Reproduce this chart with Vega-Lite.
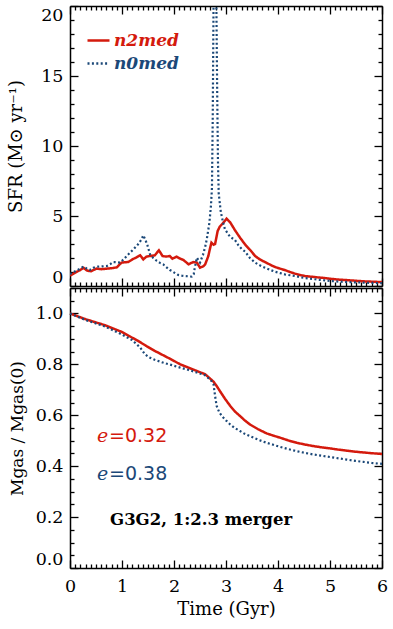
{
  "$schema": "https://vega.github.io/schema/vega-lite/v6.json",
  "padding": {"left": 7, "top": 5, "right": 6, "bottom": 4},
  "background": "white",
  "config": {
    "view": {"stroke": null},
    "font": "DejaVu Serif",
    "axis": {"grid": false, "domainColor": "black", "domainWidth": 1.5, "tickColor": "black", "tickWidth": 1.3, "labelColor": "black", "titleColor": "black", "labelFont": "DejaVu Serif", "titleFont": "DejaVu Serif", "labelFontSize": 17.5, "titleFontSize": 18, "titleFontWeight": "normal", "labelOverlap": false, "labelFlush": false}
  },
  "datasets": {
    "sfr": [
      {"run":"n2med","t":0.00,"v":0.75},{"run":"n2med","t":0.10,"v":0.95},{"run":"n2med","t":0.20,"v":1.15},{"run":"n2med","t":0.26,"v":1.3},{"run":"n2med","t":0.33,"v":1.1},{"run":"n2med","t":0.40,"v":1.05},{"run":"n2med","t":0.51,"v":1.24},{"run":"n2med","t":0.60,"v":1.2},{"run":"n2med","t":0.71,"v":1.24},{"run":"n2med","t":0.80,"v":1.27},{"run":"n2med","t":0.90,"v":1.33},{"run":"n2med","t":0.99,"v":1.67},{"run":"n2med","t":1.05,"v":1.7},{"run":"n2med","t":1.12,"v":1.71},{"run":"n2med","t":1.20,"v":1.9},{"run":"n2med","t":1.28,"v":2.05},{"run":"n2med","t":1.35,"v":2.19},{"run":"n2med","t":1.41,"v":1.9},{"run":"n2med","t":1.47,"v":2.1},{"run":"n2med","t":1.55,"v":2.15},{"run":"n2med","t":1.63,"v":2.19},{"run":"n2med","t":1.71,"v":2.55},{"run":"n2med","t":1.78,"v":2.14},{"run":"n2med","t":1.85,"v":2.1},{"run":"n2med","t":1.92,"v":2.14},{"run":"n2med","t":1.97,"v":1.95},{"run":"n2med","t":2.05,"v":2.1},{"run":"n2med","t":2.12,"v":1.95},{"run":"n2med","t":2.18,"v":1.86},{"run":"n2med","t":2.28,"v":1.55},{"run":"n2med","t":2.37,"v":1.71},{"run":"n2med","t":2.44,"v":1.67},{"run":"n2med","t":2.50,"v":1.31},{"run":"n2med","t":2.56,"v":1.4},{"run":"n2med","t":2.60,"v":1.55},{"run":"n2med","t":2.66,"v":2.14},{"run":"n2med","t":2.70,"v":2.8},{"run":"n2med","t":2.72,"v":3.1},{"run":"n2med","t":2.76,"v":2.95},{"run":"n2med","t":2.79,"v":3.0},{"run":"n2med","t":2.84,"v":3.93},{"run":"n2med","t":2.88,"v":4.24},{"run":"n2med","t":2.95,"v":4.52},{"run":"n2med","t":3.01,"v":4.81},{"run":"n2med","t":3.08,"v":4.55},{"run":"n2med","t":3.17,"v":4.0},{"run":"n2med","t":3.27,"v":3.45},{"run":"n2med","t":3.37,"v":2.95},{"run":"n2med","t":3.47,"v":2.55},{"run":"n2med","t":3.56,"v":2.14},{"run":"n2med","t":3.65,"v":1.9},{"run":"n2med","t":3.75,"v":1.71},{"run":"n2med","t":3.85,"v":1.52},{"run":"n2med","t":3.94,"v":1.36},{"run":"n2med","t":4.04,"v":1.24},{"run":"n2med","t":4.13,"v":1.14},{"run":"n2med","t":4.23,"v":1.0},{"run":"n2med","t":4.33,"v":0.88},{"run":"n2med","t":4.43,"v":0.78},{"run":"n2med","t":4.52,"v":0.71},{"run":"n2med","t":4.62,"v":0.67},{"run":"n2med","t":4.71,"v":0.64},{"run":"n2med","t":4.80,"v":0.6},{"run":"n2med","t":4.90,"v":0.57},{"run":"n2med","t":5.00,"v":0.52},{"run":"n2med","t":5.10,"v":0.48},{"run":"n2med","t":5.20,"v":0.45},{"run":"n2med","t":5.29,"v":0.43},{"run":"n2med","t":5.40,"v":0.4},{"run":"n2med","t":5.48,"v":0.38},{"run":"n2med","t":5.58,"v":0.35},{"run":"n2med","t":5.67,"v":0.33},{"run":"n2med","t":5.80,"v":0.31},{"run":"n2med","t":5.93,"v":0.29},{"run":"n2med","t":6.00,"v":0.28},
      {"run":"n0med","t":0.00,"v":0.85},{"run":"n0med","t":0.10,"v":1.05},{"run":"n0med","t":0.20,"v":1.25},{"run":"n0med","t":0.26,"v":1.38},{"run":"n0med","t":0.32,"v":1.25},{"run":"n0med","t":0.38,"v":1.14},{"run":"n0med","t":0.45,"v":1.3},{"run":"n0med","t":0.51,"v":1.38},{"run":"n0med","t":0.60,"v":1.4},{"run":"n0med","t":0.71,"v":1.43},{"run":"n0med","t":0.77,"v":1.55},{"run":"n0med","t":0.83,"v":1.71},{"run":"n0med","t":0.90,"v":1.7},{"run":"n0med","t":0.96,"v":1.67},{"run":"n0med","t":1.03,"v":1.9},{"run":"n0med","t":1.09,"v":2.14},{"run":"n0med","t":1.16,"v":2.4},{"run":"n0med","t":1.22,"v":2.62},{"run":"n0med","t":1.31,"v":2.98},{"run":"n0med","t":1.37,"v":3.3},{"run":"n0med","t":1.41,"v":3.62},{"run":"n0med","t":1.45,"v":3.3},{"run":"n0med","t":1.49,"v":2.9},{"run":"n0med","t":1.54,"v":2.26},{"run":"n0med","t":1.60,"v":2.0},{"run":"n0med","t":1.67,"v":1.79},{"run":"n0med","t":1.73,"v":1.65},{"run":"n0med","t":1.79,"v":1.55},{"run":"n0med","t":1.85,"v":1.35},{"run":"n0med","t":1.92,"v":1.14},{"run":"n0med","t":1.96,"v":1.07},{"run":"n0med","t":2.02,"v":0.92},{"run":"n0med","t":2.08,"v":0.79},{"run":"n0med","t":2.15,"v":0.74},{"run":"n0med","t":2.21,"v":0.71},{"run":"n0med","t":2.28,"v":0.69},{"run":"n0med","t":2.34,"v":0.67},{"run":"n0med","t":2.38,"v":0.85},{"run":"n0med","t":2.40,"v":1.31},{"run":"n0med","t":2.44,"v":2.02},{"run":"n0med","t":2.47,"v":1.85},{"run":"n0med","t":2.50,"v":1.67},{"run":"n0med","t":2.56,"v":2.26},{"run":"n0med","t":2.60,"v":2.8},{"run":"n0med","t":2.63,"v":3.33},{"run":"n0med","t":2.68,"v":4.5},{"run":"n0med","t":2.71,"v":5.7},{"run":"n0med","t":2.73,"v":7.0},{"run":"n0med","t":2.745,"v":12},{"run":"n0med","t":2.76,"v":20},{"run":"n0med","t":2.79,"v":25},{"run":"n0med","t":2.815,"v":20},{"run":"n0med","t":2.83,"v":14},{"run":"n0med","t":2.845,"v":9},{"run":"n0med","t":2.86,"v":6.6},{"run":"n0med","t":2.90,"v":5.3},{"run":"n0med","t":2.94,"v":4.6},{"run":"n0med","t":2.98,"v":4.05},{"run":"n0med","t":3.08,"v":3.5},{"run":"n0med","t":3.17,"v":3.3},{"run":"n0med","t":3.24,"v":2.9},{"run":"n0med","t":3.30,"v":2.65},{"run":"n0med","t":3.37,"v":2.45},{"run":"n0med","t":3.46,"v":2.0},{"run":"n0med","t":3.56,"v":1.67},{"run":"n0med","t":3.65,"v":1.48},{"run":"n0med","t":3.75,"v":1.31},{"run":"n0med","t":3.85,"v":1.15},{"run":"n0med","t":3.94,"v":1.02},{"run":"n0med","t":4.04,"v":0.92},{"run":"n0med","t":4.13,"v":0.83},{"run":"n0med","t":4.23,"v":0.77},{"run":"n0med","t":4.33,"v":0.71},{"run":"n0med","t":4.43,"v":0.63},{"run":"n0med","t":4.52,"v":0.57},{"run":"n0med","t":4.62,"v":0.52},{"run":"n0med","t":4.71,"v":0.48},{"run":"n0med","t":4.80,"v":0.44},{"run":"n0med","t":4.90,"v":0.4},{"run":"n0med","t":5.00,"v":0.36},{"run":"n0med","t":5.10,"v":0.33},{"run":"n0med","t":5.20,"v":0.31},{"run":"n0med","t":5.29,"v":0.29},{"run":"n0med","t":5.40,"v":0.27},{"run":"n0med","t":5.48,"v":0.26},{"run":"n0med","t":5.58,"v":0.25},{"run":"n0med","t":5.67,"v":0.24},{"run":"n0med","t":5.80,"v":0.22},{"run":"n0med","t":5.93,"v":0.21},{"run":"n0med","t":6.00,"v":0.2}
    ],
    "gas": [
      {"run":"n2med","t":0,"f":1.0},{"run":"n2med","t":0.29,"f":0.978},{"run":"n2med","t":0.67,"f":0.954},{"run":"n2med","t":0.99,"f":0.928},{"run":"n2med","t":1.15,"f":0.91},{"run":"n2med","t":1.31,"f":0.892},{"run":"n2med","t":1.47,"f":0.872},{"run":"n2med","t":1.63,"f":0.853},{"run":"n2med","t":1.80,"f":0.835},{"run":"n2med","t":1.96,"f":0.818},{"run":"n2med","t":2.12,"f":0.80},{"run":"n2med","t":2.28,"f":0.787},{"run":"n2med","t":2.44,"f":0.774},{"run":"n2med","t":2.60,"f":0.761},{"run":"n2med","t":2.69,"f":0.745},{"run":"n2med","t":2.76,"f":0.732},{"run":"n2med","t":2.82,"f":0.715},{"run":"n2med","t":2.88,"f":0.696},{"run":"n2med","t":2.98,"f":0.665},{"run":"n2med","t":3.08,"f":0.637},{"run":"n2med","t":3.17,"f":0.615},{"run":"n2med","t":3.27,"f":0.597},{"run":"n2med","t":3.36,"f":0.58},{"run":"n2med","t":3.46,"f":0.564},{"run":"n2med","t":3.62,"f":0.545},{"run":"n2med","t":3.78,"f":0.529},{"run":"n2med","t":3.91,"f":0.52},{"run":"n2med","t":4.04,"f":0.512},{"run":"n2med","t":4.20,"f":0.501},{"run":"n2med","t":4.36,"f":0.492},{"run":"n2med","t":4.52,"f":0.485},{"run":"n2med","t":4.68,"f":0.479},{"run":"n2med","t":4.84,"f":0.474},{"run":"n2med","t":5.00,"f":0.47},{"run":"n2med","t":5.16,"f":0.465},{"run":"n2med","t":5.32,"f":0.461},{"run":"n2med","t":5.48,"f":0.457},{"run":"n2med","t":5.64,"f":0.454},{"run":"n2med","t":5.80,"f":0.451},{"run":"n2med","t":6.00,"f":0.448},
      {"run":"n0med","t":0,"f":1.0},{"run":"n0med","t":0.29,"f":0.975},{"run":"n0med","t":0.67,"f":0.949},{"run":"n0med","t":0.99,"f":0.918},{"run":"n0med","t":1.19,"f":0.896},{"run":"n0med","t":1.35,"f":0.866},{"run":"n0med","t":1.44,"f":0.84},{"run":"n0med","t":1.52,"f":0.828},{"run":"n0med","t":1.63,"f":0.818},{"run":"n0med","t":1.80,"f":0.806},{"run":"n0med","t":1.96,"f":0.797},{"run":"n0med","t":2.12,"f":0.787},{"run":"n0med","t":2.28,"f":0.778},{"run":"n0med","t":2.44,"f":0.768},{"run":"n0med","t":2.60,"f":0.757},{"run":"n0med","t":2.69,"f":0.741},{"run":"n0med","t":2.72,"f":0.735},{"run":"n0med","t":2.76,"f":0.722},{"run":"n0med","t":2.79,"f":0.676},{"run":"n0med","t":2.82,"f":0.637},{"run":"n0med","t":2.87,"f":0.612},{"run":"n0med","t":2.92,"f":0.597},{"run":"n0med","t":3.00,"f":0.58},{"run":"n0med","t":3.08,"f":0.564},{"run":"n0med","t":3.17,"f":0.55},{"run":"n0med","t":3.27,"f":0.538},{"run":"n0med","t":3.36,"f":0.527},{"run":"n0med","t":3.46,"f":0.518},{"run":"n0med","t":3.62,"f":0.504},{"run":"n0med","t":3.78,"f":0.492},{"run":"n0med","t":3.91,"f":0.484},{"run":"n0med","t":4.04,"f":0.476},{"run":"n0med","t":4.20,"f":0.467},{"run":"n0med","t":4.36,"f":0.459},{"run":"n0med","t":4.52,"f":0.452},{"run":"n0med","t":4.68,"f":0.446},{"run":"n0med","t":4.84,"f":0.441},{"run":"n0med","t":5.00,"f":0.436},{"run":"n0med","t":5.16,"f":0.431},{"run":"n0med","t":5.32,"f":0.426},{"run":"n0med","t":5.48,"f":0.421},{"run":"n0med","t":5.64,"f":0.417},{"run":"n0med","t":5.80,"f":0.413},{"run":"n0med","t":6.00,"f":0.409}
    ],
    "ecc": [
      {"run":"n2med","t":0.52,"f":0.495,"eq":"=0.32"},
      {"run":"n0med","t":0.52,"f":0.345,"eq":"=0.38"}
    ],
    "caption": [
      {"t":0.77,"f":0.168,"note":"G3G2, 1:2.3 merger"}
    ]
  },
  "spacing": 0,
  "resolve": {"scale": {"color": "independent", "strokeDash": "independent"}},
  "vconcat": [
    {
      "width": 312, "height": 280,
      "layer": [
        {
          "data": {"name": "sfr"},
          "transform": [{"filter": "datum.run === 'n2med'"}],
          "mark": {"type": "line", "strokeWidth": 2.5, "clip": true},
          "encoding": {
            "x": {"field": "t", "type": "quantitative", "scale": {"domain": [0, 6], "nice": false, "zero": false},
              "axis": {"orient": "bottom", "values": [0,0.1,0.2,0.3,0.4,0.5,0.6,0.7,0.8,0.9,1,1.1,1.2,1.3,1.4,1.5,1.6,1.7,1.8,1.9,2,2.1,2.2,2.3,2.4,2.5,2.6,2.7,2.8,2.9,3,3.1,3.2,3.3,3.4,3.5,3.6,3.7,3.8,3.9,4,4.1,4.2,4.3,4.4,4.5,4.6,4.7,4.8,4.9,5,5.1,5.2,5.3,5.4,5.5,5.6,5.7,5.8,5.9,6], "labels": false, "title": null,
                "tickSize": {"condition": {"test": "datum.value % 1 === 0", "value": -8}, "value": -4}}},
            "y": {"field": "v", "type": "quantitative", "scale": {"domain": [0, 20], "nice": false},
              "axis": {"orient": "left", "values": [0,1,2,3,4,5,6,7,8,9,10,11,12,13,14,15,16,17,18,19,20], "labelExpr": "datum.value % 5 === 0 ? '' + datum.value : ''", "labelFlush": true, "labelPadding": 15, "title": "SFR (M⊙ yr⁻¹)", "titleFontWeight": "normal", "titlePadding": 7, "minExtent": 38, "maxExtent": 38,
                "tickSize": {"condition": {"test": "datum.value % 5 === 0", "value": -8}, "value": -4}}},
            "color": {"field": "run", "type": "nominal", "scale": {"domain": ["n2med", "n0med"], "range": ["#d41a0d", "#1b4878"]},
              "legend": {"orient": "none", "legendX": 16, "legendY": 22, "title": null, "padding": 0, "symbolType": "stroke", "symbolSize": 484, "symbolStrokeWidth": 2.5, "labelFont": "DejaVu Serif", "labelFontStyle": "italic", "labelFontWeight": "bold", "labelFontSize": 17, "labelOffset": 3, "rowPadding": 2,
                "encode": {"labels": {"update": {"fill": {"signal": "datum.value === 'n2med' ? '#d41a0d' : '#1b4878'"}}}}}},
            "strokeDash": {"field": "run", "type": "nominal", "scale": {"domain": ["n2med", "n0med"], "range": [[1, 0], [2, 2.4]]},
              "legend": {"orient": "none", "legendX": 16, "legendY": 22, "title": null, "padding": 0, "symbolType": "stroke", "symbolSize": 484, "symbolStrokeWidth": 2.5, "labelFont": "DejaVu Serif", "labelFontStyle": "italic", "labelFontWeight": "bold", "labelFontSize": 17, "labelOffset": 3, "rowPadding": 2,
                "encode": {"labels": {"update": {"fill": {"signal": "datum.value === 'n2med' ? '#d41a0d' : '#1b4878'"}}}}}}
          }
        },
        {
          "data": {"name": "sfr"},
          "transform": [{"filter": "datum.run === 'n0med'"}],
          "mark": {"type": "line", "strokeWidth": 2.2, "clip": true},
          "encoding": {
            "x": {"field": "t", "type": "quantitative",
              "axis": {"orient": "top", "values": [0,0.1,0.2,0.3,0.4,0.5,0.6,0.7,0.8,0.9,1,1.1,1.2,1.3,1.4,1.5,1.6,1.7,1.8,1.9,2,2.1,2.2,2.3,2.4,2.5,2.6,2.7,2.8,2.9,3,3.1,3.2,3.3,3.4,3.5,3.6,3.7,3.8,3.9,4,4.1,4.2,4.3,4.4,4.5,4.6,4.7,4.8,4.9,5,5.1,5.2,5.3,5.4,5.5,5.6,5.7,5.8,5.9,6], "labels": false, "title": null,
                "tickSize": {"condition": {"test": "datum.value % 1 === 0", "value": -8}, "value": -4}}},
            "y": {"field": "v", "type": "quantitative",
              "axis": {"orient": "right", "values": [0,1,2,3,4,5,6,7,8,9,10,11,12,13,14,15,16,17,18,19,20], "labels": false, "title": null,
                "tickSize": {"condition": {"test": "datum.value % 5 === 0", "value": -8}, "value": -4}}},
            "color": {"field": "run", "type": "nominal"},
            "strokeDash": {"field": "run", "type": "nominal"}
          }
        }
      ],
      "resolve": {"axis": {"x": "independent", "y": "independent"}}
    },
    {
      "width": 312, "height": 280,
      "layer": [
        {
          "data": {"name": "gas"},
          "transform": [{"filter": "datum.run === 'n2med'"}],
          "mark": {"type": "line", "strokeWidth": 2.5},
          "encoding": {
            "x": {"field": "t", "type": "quantitative", "scale": {"domain": [0, 6], "nice": false, "zero": false},
              "axis": {"orient": "bottom", "values": [0,0.1,0.2,0.3,0.4,0.5,0.6,0.7,0.8,0.9,1,1.1,1.2,1.3,1.4,1.5,1.6,1.7,1.8,1.9,2,2.1,2.2,2.3,2.4,2.5,2.6,2.7,2.8,2.9,3,3.1,3.2,3.3,3.4,3.5,3.6,3.7,3.8,3.9,4,4.1,4.2,4.3,4.4,4.5,4.6,4.7,4.8,4.9,5,5.1,5.2,5.3,5.4,5.5,5.6,5.7,5.8,5.9,6], "labelExpr": "datum.value % 1 === 0 ? '' + datum.value : ''", "labelPadding": 17, "title": "Time (Gyr)", "titleFontWeight": "normal", "titlePadding": 2,
                "tickSize": {"condition": {"test": "datum.value % 1 === 0", "value": -8}, "value": -4}}},
            "y": {"field": "f", "type": "quantitative", "scale": {"domain": [0, 1.1], "nice": false},
              "axis": {"orient": "left", "values": [0,0.05,0.1,0.15,0.2,0.25,0.3,0.35,0.4,0.45,0.5,0.55,0.6,0.65,0.7,0.75,0.8,0.85,0.9,0.95,1,1.05,1.1], "format": ".1f", "labelExpr": "abs(datum.value*5 - round(datum.value*5)) < 0.001 ? datum.label : ''", "labelFlush": true, "labelPadding": 15, "title": "Mgas / Mgas(0)", "titleFontSize": 17, "titleFontWeight": "normal", "titlePadding": 6, "minExtent": 38, "maxExtent": 38,
                "tickSize": {"condition": {"test": "abs(datum.value*5 - round(datum.value*5)) < 0.001", "value": -8}, "value": -4}}},
            "color": {"field": "run", "type": "nominal", "scale": {"domain": ["n2med", "n0med"], "range": ["#d41a0d", "#1b4878"]}, "legend": null},
            "strokeDash": {"field": "run", "type": "nominal", "scale": {"domain": ["n2med", "n0med"], "range": [[1, 0], [2, 2.4]]}, "legend": null}
          }
        },
        {
          "data": {"name": "gas"},
          "transform": [{"filter": "datum.run === 'n0med'"}],
          "mark": {"type": "line", "strokeWidth": 2.2},
          "encoding": {
            "x": {"field": "t", "type": "quantitative",
              "axis": {"orient": "top", "values": [0,0.1,0.2,0.3,0.4,0.5,0.6,0.7,0.8,0.9,1,1.1,1.2,1.3,1.4,1.5,1.6,1.7,1.8,1.9,2,2.1,2.2,2.3,2.4,2.5,2.6,2.7,2.8,2.9,3,3.1,3.2,3.3,3.4,3.5,3.6,3.7,3.8,3.9,4,4.1,4.2,4.3,4.4,4.5,4.6,4.7,4.8,4.9,5,5.1,5.2,5.3,5.4,5.5,5.6,5.7,5.8,5.9,6], "labels": false, "title": null,
                "tickSize": {"condition": {"test": "datum.value % 1 === 0", "value": -8}, "value": -4}}},
            "y": {"field": "f", "type": "quantitative",
              "axis": {"orient": "right", "values": [0,0.05,0.1,0.15,0.2,0.25,0.3,0.35,0.4,0.45,0.5,0.55,0.6,0.65,0.7,0.75,0.8,0.85,0.9,0.95,1,1.05,1.1], "labels": false, "title": null,
                "tickSize": {"condition": {"test": "abs(datum.value*5 - round(datum.value*5)) < 0.001", "value": -8}, "value": -4}}},
            "color": {"field": "run", "type": "nominal", "legend": null},
            "strokeDash": {"field": "run", "type": "nominal", "legend": null}
          }
        },
        {
          "data": {"name": "ecc"},
          "mark": {"type": "text", "text": "e", "align": "left", "baseline": "alphabetic", "font": "DejaVu Serif", "fontStyle": "italic", "fontSize": 19},
          "encoding": {
            "x": {"field": "t", "type": "quantitative", "axis": null},
            "y": {"field": "f", "type": "quantitative", "axis": null},
            "color": {"field": "run", "type": "nominal", "legend": null}
          }
        },
        {
          "data": {"name": "ecc"},
          "mark": {"type": "text", "align": "left", "baseline": "alphabetic", "dx": 12, "font": "DejaVu Sans", "fontSize": 19},
          "encoding": {
            "x": {"field": "t", "type": "quantitative", "axis": null},
            "y": {"field": "f", "type": "quantitative", "axis": null},
            "text": {"field": "eq"},
            "color": {"field": "run", "type": "nominal", "legend": null}
          }
        },
        {
          "data": {"name": "caption"},
          "mark": {"type": "text", "align": "left", "baseline": "alphabetic", "font": "DejaVu Serif", "fontWeight": "bold", "fontSize": 16.5, "color": "black"},
          "encoding": {
            "x": {"field": "t", "type": "quantitative", "axis": null},
            "y": {"field": "f", "type": "quantitative", "axis": null},
            "text": {"field": "note"}
          }
        }
      ],
      "resolve": {"axis": {"x": "independent", "y": "independent"}}
    }
  ]
}
